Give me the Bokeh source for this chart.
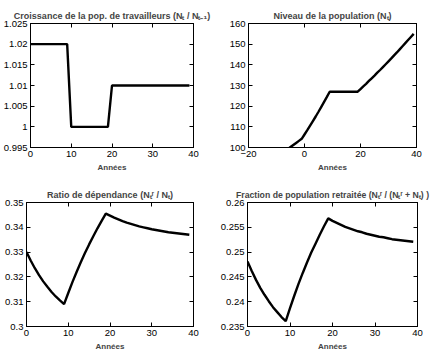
from bokeh.plotting import figure
from bokeh.layouts import column, row
from bokeh.models import Range1d, FixedTicker, LinearAxis, CustomJSTickFormatter
from bokeh.embed import file_html
from bokeh.resources import INLINE

# ---------------- data ----------------
years = list(range(0, 40))
growth = [1.02, 1.02, 1.02, 1.02, 1.02, 1.02, 1.02, 1.02, 1.02, 1.02,
          1.00, 1.00, 1.00, 1.00, 1.00, 1.00, 1.00, 1.00, 1.00, 1.00,
          1.01, 1.01, 1.01, 1.01, 1.01, 1.01, 1.01, 1.01, 1.01, 1.01,
          1.01, 1.01, 1.01, 1.01, 1.01, 1.01, 1.01, 1.01, 1.01, 1.01]

pop_years = list(range(-8, 40))
population = [97.2, 98.2, 99.2, 100.2, 101.2, 102.2, 103.2, 104.2,
              106.3, 108.4, 110.6, 112.8, 115.0, 117.3, 119.7, 122.1, 124.5, 127.0,
              127.0, 127.0, 127.0, 127.0, 127.0, 127.0, 127.0, 127.0, 127.0, 127.0,
              128.3, 129.6, 130.8, 132.2, 133.5, 134.8, 136.2, 137.5, 138.9, 140.3,
              141.7, 143.1, 144.6, 146.0, 147.5, 149.0, 150.5, 152.0, 153.5, 155.0]

dependency = [0.3300, 0.3266, 0.3235, 0.3207, 0.3182, 0.3160, 0.3139, 0.3121, 0.3105, 0.3090,
              0.3135, 0.3179, 0.3220, 0.3259, 0.3296, 0.3331, 0.3364, 0.3396, 0.3426, 0.3455,
              0.3447, 0.3439, 0.3432, 0.3425, 0.3419, 0.3414, 0.3409, 0.3404, 0.3400, 0.3396,
              0.3392, 0.3389, 0.3386, 0.3383, 0.3380, 0.3378, 0.3376, 0.3374, 0.3372, 0.3370]

retired_share = [0.2481, 0.2462, 0.2444, 0.2428, 0.2414, 0.2401, 0.2389, 0.2379, 0.2369, 0.2361,
                 0.2387, 0.2412, 0.2436, 0.2458, 0.2479, 0.2499, 0.2517, 0.2535, 0.2552, 0.2568,
                 0.2563, 0.2559, 0.2555, 0.2551, 0.2548, 0.2545, 0.2542, 0.2540, 0.2537, 0.2535,
                 0.2533, 0.2531, 0.2530, 0.2528, 0.2526, 0.2525, 0.2524, 0.2523, 0.2522, 0.2521]

x_ticks_a = [0, 10, 20, 30, 40]
x_ticks_b = [-20, 0, 20, 40]
y_ticks_growth = [0.995, 1.0, 1.005, 1.01, 1.015, 1.02, 1.025]
y_ticks_pop = [100, 110, 120, 130, 140, 150, 160]
y_ticks_dep = [0.30, 0.31, 0.32, 0.33, 0.34, 0.35]
y_ticks_ret = [0.235, 0.24, 0.245, 0.25, 0.255, 0.26]

titles = ["Croissance de la pop. de travailleurs (Nₜ / Nₜ₋₁)",
          "Niveau de la population (Nₜ)",
          "Ratio de dépendance (Nₜʳ / Nₜ)",
          "Fraction de population retraitée (Nₜʳ / (Nₜʳ + Nₜ) )"]
xlabel = "Années"

FONT = "Liberation Sans"

JS_FMT = """
var v = Math.round(tick * 1e6) / 1e6;
return v.toString().replace('-', '\u2212');
"""


def make(title, xs, ys, xr, yr, xt, yt, borders, title_size="9px", title_offset=0):
    left, right, top, bottom = borders
    p = figure(width=215, height=178, x_range=Range1d(*xr), y_range=Range1d(*yr),
               output_backend="svg", toolbar_location=None, title=title,
               min_border_left=left, min_border_right=right,
               min_border_top=top, min_border_bottom=bottom)
    p.background_fill_color = "white"
    p.border_fill_color = "white"
    p.outline_line_color = "black"
    p.outline_line_alpha = 1.0
    p.outline_line_width = 1
    p.grid.visible = False
    p.title.text_font = FONT
    p.title.text_font_style = "bold"
    p.title.text_font_size = title_size
    p.title.align = "center"
    p.title.standoff = 5
    p.title.offset = title_offset
    for ax in (p.xaxis[0], p.yaxis[0]):
        ax.formatter = CustomJSTickFormatter(code=JS_FMT)
        ax.major_tick_in = 4
        ax.major_tick_out = 0
        ax.minor_tick_line_color = None
        ax.major_tick_line_color = "black"
        ax.axis_line_color = "black"
        ax.major_label_text_font = FONT
        ax.major_label_text_font_size = "9.5px"
        ax.major_label_text_color = "black"
        ax.major_label_standoff = 3
    p.xaxis.ticker = FixedTicker(ticks=xt)
    p.yaxis.ticker = FixedTicker(ticks=yt)
    p.xaxis.axis_label = xlabel
    p.xaxis.axis_label_text_font = FONT
    p.xaxis.axis_label_text_font_style = "bold"
    p.xaxis.axis_label_text_font_size = "8px"
    p.xaxis.axis_label_standoff = 3
    # mirrored tick marks on the top and right edges (MATLAB "box on" style)
    for loc, ticks in (("above", xt), ("right", yt)):
        ax = LinearAxis(ticker=FixedTicker(ticks=ticks), major_tick_in=4, major_tick_out=0,
                        minor_tick_line_color=None, major_label_text_font_size="0px",
                        major_label_text_color=None,
                        major_label_standoff=0, axis_line_color="black",
                        major_tick_line_color="black")
        p.add_layout(ax, loc)
    p.line(xs, ys, line_color="black", line_width=2.4)
    return p


p1 = make(titles[0], years, growth, (0, 40), (0.995, 1.0250001), x_ticks_a, y_ticks_growth, (27, 22, 23, 31))
p2 = make(titles[1], pop_years, population, (-20, 40), (100, 160), x_ticks_b, y_ticks_pop, (33, 14, 23, 31))
p3 = make(titles[2], years, dependency, (0, 40), (0.30, 0.35), x_ticks_a, y_ticks_dep, (26, 22, 23, 30))
p4 = make(titles[3], years, retired_share, (0, 40), (0.235, 0.26), x_ticks_a, y_ticks_ret, (32, 13, 24, 29),
          title_size="8.7px", title_offset=-5)

layout = column(row(p1, p2), row(p3, p4))
open("out.html", "w").write(file_html(layout, INLINE))
